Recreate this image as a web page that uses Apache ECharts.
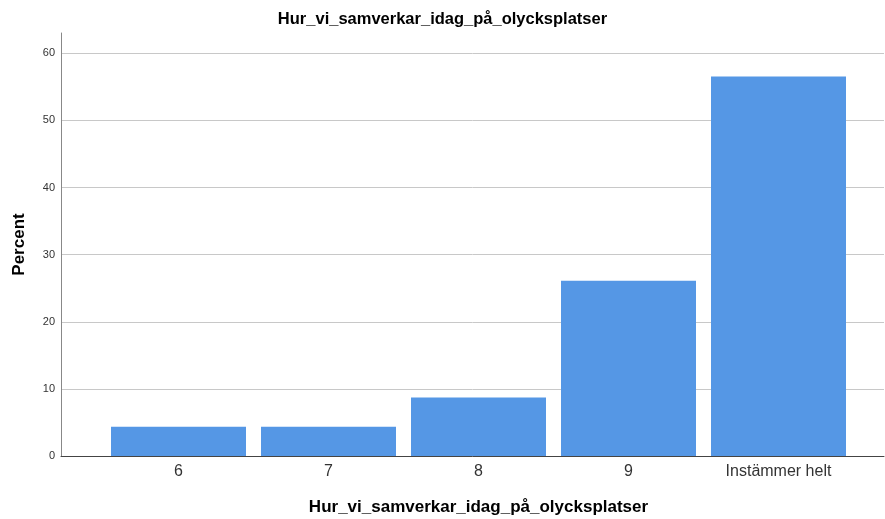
<!DOCTYPE html>
<html>
<head>
<meta charset="utf-8">
<script src="https://cdn.jsdelivr.net/npm/echarts@6/dist/echarts.min.js"></script>
<style>
html,body{margin:0;padding:0;background:#fff;}
#chart{width:885px;height:519px;}
</style>
</head>
<body>
<div id="chart"></div>
<script>
var titleText = 'Hur_vi_samverkar_idag_på_olycksplatser';
var categories = ['6', '7', '8', '9', 'Instämmer helt'];
var percentValues = [4.35, 4.35, 8.70, 26.09, 56.52];
var yTicks = [0, 10, 20, 30, 40, 50, 60];

var FONT = '"Liberation Sans", Arial, sans-serif';
var chart = echarts.init(document.getElementById('chart'));
chart.setOption({
  backgroundColor: '#ffffff',
  animation: false,
  title: {
    text: titleText,
    left: 'center',
    top: 6,
    textStyle: {fontFamily: FONT, fontSize: 16.5, fontWeight: 'bold', color: '#000'}
  },
  grid: [
    {left: 61, right: 1, top: 33, bottom: 63, containLabel: false, outerBoundsMode: 'none'},
    {left: 103.5, width: 750, top: 33, bottom: 63, containLabel: false, outerBoundsMode: 'none'},
    {left: 61, right: 1, top: 53.3, bottom: 63, containLabel: false, outerBoundsMode: 'none'}
  ],
  xAxis: [
    {gridIndex: 0, type: 'value', min: 0, max: 1,
     axisLine: {show: true, onZero: false, lineStyle: {color: '#444', width: 1}},
     axisTick: {show: false}, axisLabel: {show: false}, splitLine: {show: false}},
    {gridIndex: 1, type: 'category', data: categories,
     axisLine: {show: false}, axisTick: {show: false},
     axisLabel: {margin: 8, fontFamily: FONT, fontSize: 16, color: '#333'},
     name: titleText, nameLocation: 'middle', nameGap: 43,
     nameTextStyle: {fontFamily: FONT, fontSize: 17, fontWeight: 'bold', color: '#000'}},
    {gridIndex: 2, type: 'value', min: 0, max: 1, show: false}
  ],
  yAxis: [
    {gridIndex: 0, type: 'value', min: 0, max: 63,
     axisLine: {show: true, lineStyle: {color: '#888', width: 1}},
     axisTick: {show: false}, axisLabel: {show: false}, splitLine: {show: false},
     name: 'Percent', nameLocation: 'middle', nameGap: 33, nameRotate: 90,
     nameTextStyle: {fontFamily: FONT, fontSize: 17, fontWeight: 'bold', color: '#000'}},
    {gridIndex: 1, type: 'value', min: 0, max: 63, show: false},
    {gridIndex: 2, type: 'value', min: 0, max: 60, interval: 10,
     axisLine: {show: false}, axisTick: {show: false},
     axisLabel: {margin: 6, fontFamily: FONT, fontSize: 11, color: '#333',
       formatter: function (v) { return yTicks.indexOf(v) >= 0 ? String(v) : ''; }},
     splitLine: {show: true, lineStyle: {color: '#c8c8c8', width: 1}}}
  ],
  series: [{
    type: 'bar',
    xAxisIndex: 1,
    yAxisIndex: 1,
    data: percentValues,
    barWidth: '90%',
    itemStyle: {color: '#5597e5'},
    z: 5
  }]
});
</script>
</body>
</html>
